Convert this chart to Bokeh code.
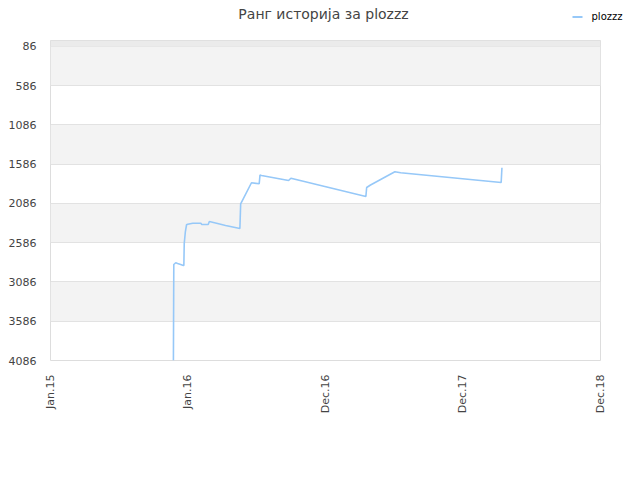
import pandas as pd
from bokeh.plotting import figure
from bokeh.layouts import column
from bokeh.models import Range1d, FixedTicker, BoxAnnotation
from bokeh.core.properties import value
from bokeh.embed import file_html
from bokeh.resources import INLINE

# ---- data ----
dates = ["2015-11-29", "2015-11-30", "2015-12-05", "2015-12-10", "2015-12-25",
         "2015-12-26", "2015-12-27", "2015-12-30", "2016-01-02", "2016-01-05",
         "2016-01-18", "2016-02-08", "2016-02-10", "2016-02-27", "2016-03-01",
         "2016-03-17", "2016-04-12", "2016-05-19", "2016-05-21", "2016-06-18",
         "2016-07-08", "2016-07-10", "2016-07-14", "2016-09-22", "2016-09-28",
         "2017-04-10", "2017-04-12", "2017-04-22", "2017-06-24", "2017-07-09",
         "2018-03-26", "2018-03-28"]
ranks = [4086, 2863, 2841, 2850, 2876,
         2876, 2596, 2443, 2357, 2350,
         2337, 2337, 2353, 2353, 2315,
         2334, 2366, 2404, 2092, 1822,
         1835, 1725, 1729, 1793, 1764,
         1997, 1882, 1850, 1682, 1695,
         1818, 1631]
series_name = "plozzz"
title_text = "Ранг историја за plozzz"

x_tick_dates = ["2015-01-15", "2016-01-05", "2016-12-26", "2017-12-17", "2018-12-08"]
x_tick_labels = ["Jan.15", "Jan.16", "Dec.16", "Dec.17", "Dec.18"]
y_ticks = [86, 586, 1086, 1586, 2086, 2586, 3086, 3586, 4086]
y_top = 10

LINE_COLOR = "#96c8f8"
FONT = "DejaVu Sans"

xs = pd.to_datetime(dates)
tick_ms = [pd.Timestamp(d).value // 10**6 for d in x_tick_dates]

W = 632
HEAD_H = 40
MAIN_H = 432
FRAME_L, FRAME_R = 50, 600

# ---- header figure: title + legend (own full-width frame, not aligned) ----
head = figure(width=W, height=HEAD_H, output_backend="svg", toolbar_location=None,
              x_range=Range1d(0, W), y_range=Range1d(HEAD_H, 0),
              min_border=0, x_axis_type=None, y_axis_type=None)
head.frame_align = False
head.outline_line_color = None
head.grid.visible = False
head.background_fill_color = "white"
head.border_fill_color = "white"
head.text(x=[323], y=[13], text=[title_text], text_align="center",
          text_baseline="middle", text_font=value(FONT), text_font_size="14px",
          text_color="#444444")
head.line(x=[572, 582], y=[16.5, 16.5], line_color=LINE_COLOR, line_width=2)
head.text(x=[591], y=[16], text=[series_name], text_align="left",
          text_baseline="middle", text_font=value(FONT), text_font_size="10px",
          text_color="#000000")

# ---- main figure ----
p = figure(width=W, height=MAIN_H, output_backend="svg", toolbar_location=None,
           x_axis_type="datetime",
           x_range=Range1d(tick_ms[0], tick_ms[-1]),
           y_range=Range1d(y_ticks[-1], y_top),
           min_border_left=FRAME_L, min_border_right=W - FRAME_R,
           min_border_top=0, min_border_bottom=112)
p.frame_align = False
p.background_fill_color = "white"
p.border_fill_color = "white"
p.outline_line_color = "#dddddd"
p.outline_line_width = 1

p.xgrid.visible = False
p.ygrid.ticker = FixedTicker(ticks=y_ticks)
p.ygrid.grid_line_color = "#e2e2e2"
p.ygrid.band_fill_color = "#f3f3f3"
p.ygrid.band_fill_alpha = 1.0
p.add_layout(BoxAnnotation(top=y_top, bottom=y_ticks[0], fill_color="#ebebeb",
                           fill_alpha=1.0, line_alpha=0, level="underlay"))

p.yaxis.ticker = FixedTicker(ticks=y_ticks)
p.yaxis.major_label_overrides = {t: str(t) for t in y_ticks}
p.xaxis.ticker = FixedTicker(ticks=tick_ms)
p.xaxis.major_label_overrides = {t: l for t, l in zip(tick_ms, x_tick_labels)}
p.xaxis.major_label_orientation = 3.14159265 / 2
for ax in (p.xaxis, p.yaxis):
    ax.axis_line_color = None
    ax.major_tick_line_color = None
    ax.minor_tick_line_color = None
    ax.major_label_text_font = FONT
    ax.major_label_text_font_size = "11px"
    ax.major_label_text_color = "#444444"
p.yaxis.major_label_standoff = 8
p.xaxis.major_label_standoff = 8

p.line(xs, ranks, line_color=LINE_COLOR, line_width=1.6)

layout = column(head, p, spacing=0)
open("out.html", "w").write(file_html(layout, INLINE))
